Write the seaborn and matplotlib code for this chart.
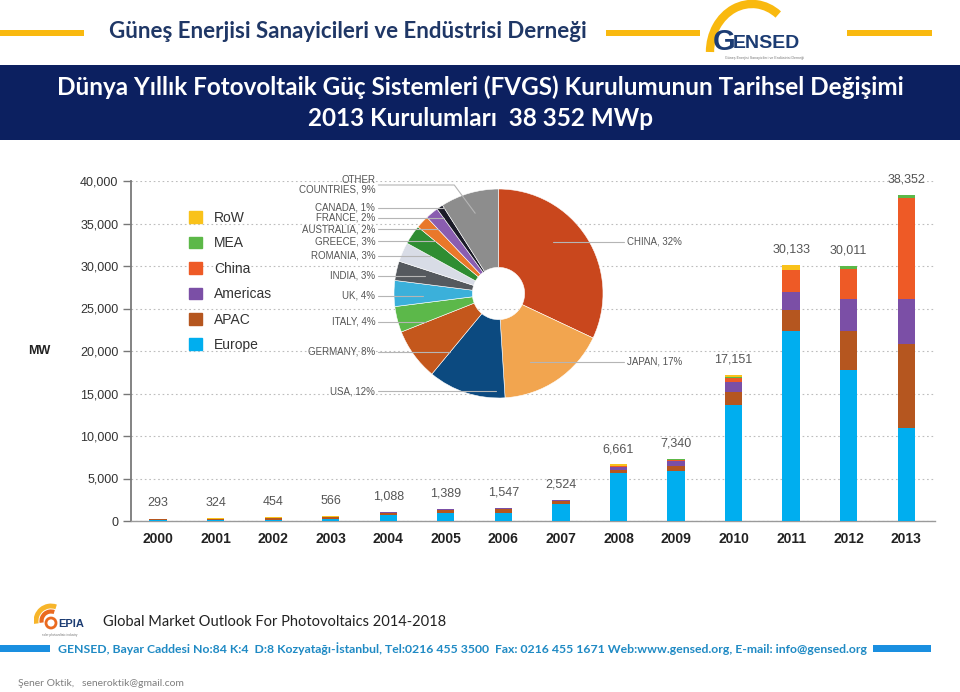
import numpy as np
import pandas as pd
import seaborn as sns
import matplotlib
matplotlib.use("Agg")
import matplotlib.pyplot as plt
from matplotlib import font_manager
from matplotlib.patches import Rectangle, Arc, Patch, Circle

# ---- data ----
years = ['2000', '2001', '2002', '2003', '2004', '2005', '2006',
         '2007', '2008', '2009', '2010', '2011', '2012', '2013']
europe = [70, 80, 140, 200, 700, 1000, 1000, 2000, 5600, 5830, 13650, 22300, 17750, 11000]
apac = [130, 150, 200, 240, 280, 290, 400, 300, 400, 650, 1550, 2500, 4550, 9850]
americas = [60, 60, 70, 80, 80, 70, 110, 200, 350, 550, 1150, 2200, 3800, 5250]
china = [0, 0, 0, 0, 0, 0, 0, 20, 150, 160, 500, 2550, 3500, 11900]
mea = [0, 0, 0, 0, 0, 0, 0, 0, 20, 50, 50, 33, 400, 350]
row = [33, 34, 44, 46, 28, 29, 37, 4, 141, 100, 251, 550, 11, 2]

regions = ['Europe', 'APAC', 'Americas', 'China', 'MEA', 'RoW']
region_colors = ['#00aeef', '#b5561f', '#7b4fa6', '#ee5a26', '#5cb848', '#f9c21a']

pie_countries = ['CHINA', 'JAPAN', 'USA', 'GERMANY', 'ITALY', 'UK', 'INDIA', 'ROMANIA',
                 'GREECE', 'AUSTRALIA', 'FRANCE', 'CANADA', 'OTHER\nCOUNTRIES']
pie_shares = [32, 17, 12, 8, 4, 4, 3, 3, 3, 2, 2, 1, 9]
pie_colors = ['#c9471d', '#f2a54f', '#0c4a80', '#c4571c', '#5cb84a', '#3bb0da', '#55595e',
              '#d8dce6', '#2f8d32', '#e9782a', '#8a5db0', '#1b1b28', '#8d8d8d']
# label heights (figure px from top) used for the leader lines
pie_label_y = [242, 362, 391, 352, 322, 296, 276, 256, 241, 229, 218, 208, 185]

df = pd.DataFrame({'year': years, 'Europe': europe, 'APAC': apac, 'Americas': americas,
                   'China': china, 'MEA': mea, 'RoW': row})
totals = df[regions].sum(axis=1)
cum = df[regions].cumsum(axis=1)

# ---- style / fonts ----
sns.set_style("white")
available = {f.name for f in font_manager.fontManager.ttflist}


def pick(*names):
    for n in names:
        if n in available:
            return n
    return 'DejaVu Sans'


slide_font = pick('Lato', 'Open Sans', 'DejaVu Sans')
chart_font = pick('Liberation Sans', 'DejaVu Sans')
narrow_font = pick('Liberation Sans Narrow', 'Liberation Sans', 'DejaVu Sans')
plt.rcParams['font.family'] = [chart_font, 'DejaVu Sans']

W, H = 960, 692
fig = plt.figure(figsize=(W / 100, H / 100), dpi=100)


def fx(px):
    return px / W


def fy(py):
    return 1 - py / H


def px_axes(x0, y0, w, h):
    # axes from a pixel box given with top-left origin
    return fig.add_axes([fx(x0), fy(y0 + h), w / W, h / H])


# ---- header ----
navy = '#0c2060'
yellow = '#f9b90f'
for x0, x1 in [(0, 84), (606, 700), (847, 932)]:
    fig.add_artist(Rectangle((fx(x0), fy(36)), fx(x1 - x0), 6 / H, color=yellow,
                             transform=fig.transFigure, lw=0))
fig.text(fx(348), fy(31), 'Güneş Enerjisi Sanayicileri ve Endüstrisi Derneği',
         family=slide_font, weight='bold', fontsize=16, color='#1f3766',
         ha='center', va='center')
fig.add_artist(Rectangle((0, fy(140)), 1, 75 / H, color=navy,
                         transform=fig.transFigure, lw=0))
fig.text(0.5, fy(87), 'Dünya Yıllık Fotovoltaik Güç Sistemleri (FVGS) Kurulumunun Tarihsel Değişimi',
         family=slide_font, weight='bold', fontsize=17.5, color='white', ha='center', va='center')
fig.text(0.5, fy(119), '2013 Kurulumları  38 352 MWp',
         family=slide_font, weight='bold', fontsize=17.5, color='white', ha='center', va='center')

# GENSED logo
lg = px_axes(680, 0, 150, 66)
lg.set_xlim(0, 150)
lg.set_ylim(0, 66)
lg.axis('off')
lg.add_patch(Arc((72, 14), 84, 96, theta1=55, theta2=180, color=yellow, lw=6))
lg.text(33, 24, 'G', family=chart_font, weight='bold', fontsize=21,
        color='#1c3c73', ha='left', va='center')
lg.text(53, 22, 'ENSED', family=chart_font, weight='bold', fontsize=14,
        color='#1c3c73', ha='left', va='center')
lg.text(85, 8, 'Güneş Enerjisi Sanayicileri ve Endüstrisi Derneği', fontsize=2.6,
        color='#777777', ha='center', va='center')

# ---- stacked bar chart ----
ax = px_axes(131, 181, 804, 340)
for reg in reversed(regions):
    sns.barplot(x=df['year'], y=cum[reg], color=region_colors[regions.index(reg)],
                width=0.3, saturation=1, linewidth=0, ax=ax, zorder=3)
ax.set_xlim(-0.47, 13.5)
ax.set_ylim(0, 40000)
ax.set_axisbelow(True)
ax.yaxis.grid(True, linestyle=(0, (1.5, 2.5)), color='#bdbdbd', lw=0.8)
ax.set_yticks(np.arange(0, 40001, 5000))
ax.set_yticklabels([f'{v:,}' for v in range(0, 40001, 5000)])
ax.tick_params(axis='y', direction='out', length=6, width=1, color='#777777',
               labelsize=9, labelcolor='#333333', pad=3, left=True)
ax.tick_params(axis='x', length=0, labelsize=10, labelcolor='#222222', pad=8)
for lab in ax.get_xticklabels():
    lab.set_fontweight('bold')
ax.set_xlabel('')
ax.set_ylabel('')
for s in ['top', 'right']:
    ax.spines[s].set_visible(False)
ax.spines['left'].set_color('#7a7a7a')
ax.spines['left'].set_linewidth(1.3)
ax.spines['bottom'].set_color('#9a9a9a')
ax.spines['bottom'].set_linewidth(1)

for i, t in enumerate(totals):
    ax.annotate(f'{t:,}', (i, t), xytext=(0, 11), textcoords='offset points',
                ha='center', va='center', fontsize=9, color='#555555',
                annotation_clip=False)

fig.text(fx(28), fy(351), 'MW', weight='bold', fontsize=9, color='#222222',
         ha='left', va='center')

handles = [Patch(color=region_colors[regions.index(r)], label=r) for r in reversed(regions)]
ax.legend(handles=handles, loc='upper left', bbox_to_anchor=(fx(189), fy(211)),
          bbox_transform=fig.transFigure, frameon=False, fontsize=10,
          handlelength=0.9, handleheight=0.9, handletextpad=0.9, labelspacing=0.82,
          borderpad=0, borderaxespad=0, labelcolor='#333333')

# ---- pie (donut) ----
cx, cy, r = 498.5, 293.5, 104.5
pa = px_axes(cx - r, cy - r, 2 * r, 2 * r)
pa.pie(pie_shares, colors=pie_colors, startangle=90, counterclock=False, radius=1,
       wedgeprops=dict(width=0.75, edgecolor='white', linewidth=0.4))
pa.set_xlim(-1, 1)
pa.set_ylim(-1, 1)
pa.axis('off')


def row_anchor(s_ang, span, y0, left):
    # point on the label's row that falls inside the slice, radius near 0.72
    xs = np.linspace(-0.99, -0.02, 300) if left else np.linspace(0.02, 0.99, 300)
    best, best_d = None, 1e9
    for x in xs:
        rr = np.hypot(x, y0)
        if not 0.3 < rr < 0.99:
            continue
        ang = np.degrees(np.arctan2(y0, x))
        if (s_ang - ang) % 360 < span and abs(rr - 0.72) < best_d:
            best, best_d = x, abs(rr - 0.72)
    return best


starts = np.cumsum([0] + pie_shares[:-1])
for name, share, st, ly in zip(pie_countries, pie_shares, starts, pie_label_y):
    s_ang = 90 - 3.6 * st
    span = 3.6 * share
    mid = np.deg2rad(s_ang - span / 2)
    left = np.cos(mid) < 0
    y = (cy - ly) / r
    tx, x_start = (-1.18, -1.15) if left else (1.23, 1.2)
    xa = row_anchor(s_ang, span, y, left)
    if xa is not None:
        xs_, ys_ = [x_start, xa], [y, y]
    else:
        mx, my = 0.8 * np.cos(mid), 0.8 * np.sin(mid)
        elbow = mx - 0.2 if left else mx + 0.2
        xs_, ys_ = [x_start, elbow, mx], [y, y, my]
    pa.plot(xs_, ys_, color='#b5b5b5', lw=0.8, clip_on=False, zorder=5)
    pa.text(tx, y, f'{name}, {share}%', family=narrow_font, fontsize=7,
            color='#555555', ha='right' if left else 'left', va='center',
            multialignment='right', clip_on=False, linespacing=1.0)

# ---- footer ----
ep = px_axes(34, 598, 66, 42)
ep.set_xlim(0, 66)
ep.set_ylim(0, 42)
ep.axis('off')
ep.add_patch(Arc((17, 19), 30, 30, theta1=70, theta2=190, color='#f7b52a', lw=3.5))
ep.add_patch(Arc((17, 19), 19, 19, theta1=70, theta2=190, color='#ea6a20', lw=3))
ep.add_patch(Circle((17, 17), 5, fill=False, ec='#ea6a20', lw=2))
ep.text(24, 16, 'EPIA', family=chart_font, weight='bold', fontsize=8,
        color='#1c3c73', ha='left', va='center')
ep.text(26, 5, 'solar photovoltaic industry', fontsize=2.2, color='#777777',
        ha='center', va='center')
fig.text(fx(103), fy(622), 'Global Market Outlook For Photovoltaics 2014-2018',
         family=slide_font, fontsize=10.5, color='#222222', ha='left', va='center')

for x0, x1 in [(0, 50), (873, 931)]:
    fig.add_artist(Rectangle((fx(x0), fy(652)), fx(x1 - x0), 7 / H, color='#1a8fe0',
                             transform=fig.transFigure, lw=0))
fig.text(fx(58), fy(649),
         'GENSED, Bayar Caddesi No:84 K:4  D:8 Kozyatağı-İstanbul, Tel:0216 455 3500  '
         'Fax: 0216 455 1671 Web:www.gensed.org, E-mail: info@gensed.org',
         family=slide_font, weight='bold', fontsize=8.8, color='#1f8ac4',
         ha='left', va='center')
fig.text(fx(18), fy(683), 'Şener Oktik,   seneroktik@gmail.com', family=slide_font,
         fontsize=7.5, color='#7f7f7f', ha='left', va='center')

fig.savefig('out.png', dpi=100)
